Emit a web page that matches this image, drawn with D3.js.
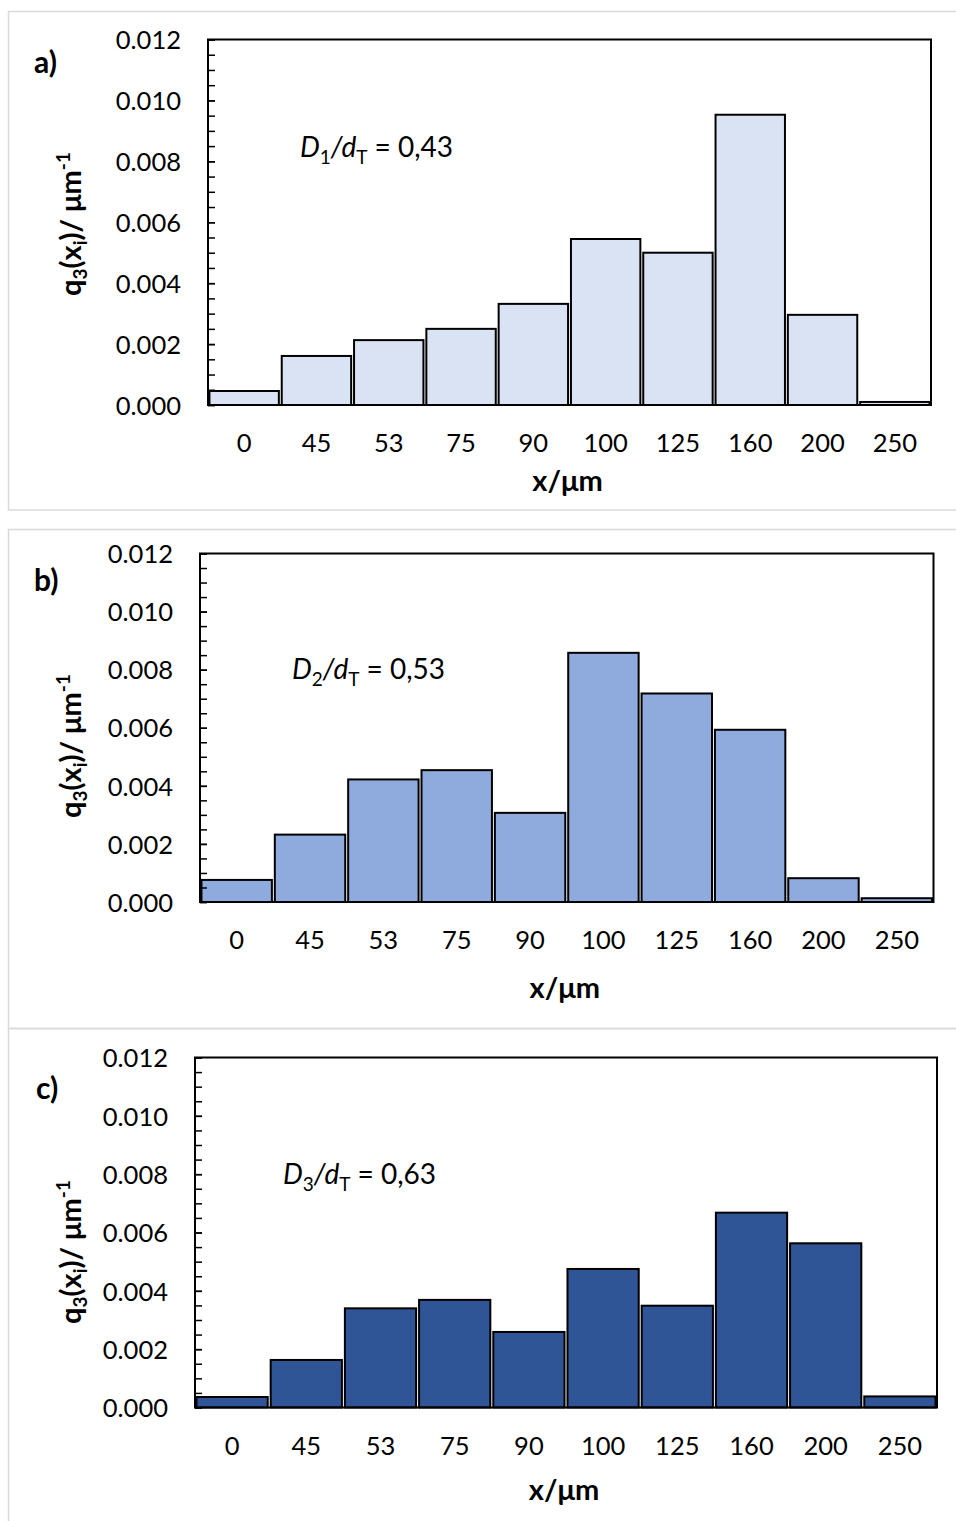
<!DOCTYPE html>
<html><head><meta charset="utf-8">
<script src="https://cdn.jsdelivr.net/npm/d3@7/dist/d3.min.js"></script>
<style>
html,body{margin:0;padding:0;background:#fff;}
svg{display:block;}
text{font-family:Lato,"Open Sans",sans-serif;fill:#000;}
</style></head>
<body>
<svg id="chart" width="956" height="1521"></svg>
<script>
// ---- data ----
const categories = ["0","45","53","75","90","100","125","160","200","250"];
const valuesA = [0.00046,0.00161,0.00213,0.0025,0.00332,0.00545,0.0050,0.00953,0.00296,0.0001];
const valuesB = [0.00076,0.00232,0.00422,0.00454,0.00307,0.00858,0.00718,0.00593,0.00082,0.00013];
const valuesC = [0.00036,0.00163,0.0034,0.00369,0.00259,0.00475,0.00349,0.00668,0.00563,0.00038];
const yTickValues = [0,0.002,0.004,0.006,0.008,0.010,0.012];
const panelLetters = ["a)","b)","c)"];
const ratioIndex = ["1","2","3"];
const ratioValues = ["0,43","0,53","0,63"];
const fills = ["#dae3f3","#8faadc","#2f5597"];
const xTitle = "x/μm";

// ---- layout per panel ----
const panels = [
  {vals:valuesA, frame:[8.5,11.5,960,510], plot:[208,39.5,931,405], ytitleY:224, letter:[34,73], ann:[300,157], xlabY:452, xtitleY:491},
  {vals:valuesB, frame:[8.5,529.5,960,1028.5], plot:[200,553.5,933.5,902], ytitleY:746, letter:[34,591], ann:[292,679], xlabY:949, xtitleY:998},
  {vals:valuesC, frame:[8.5,1028.5,960,1535], plot:[195,1057.5,937,1407.5], ytitleY:1252, letter:[36,1099], ann:[283,1184], xlabY:1455, xtitleY:1500}
];

const svg = d3.select("#chart");
const FS = 25.5;

panels.forEach((p, i) => {
  const [fx0, fy0, fx1, fy1] = p.frame;
  svg.append("rect").attr("x", fx0).attr("y", fy0).attr("width", fx1 - fx0).attr("height", fy1 - fy0)
    .attr("fill", "none").attr("stroke", "#d9d9d9").attr("stroke-width", 1.5);

  const [x0, y0, x1, y1] = p.plot;
  const x = d3.scaleBand().domain(categories).range([x0, x1]).paddingInner(0.04).paddingOuter(0.02);
  const y = d3.scaleLinear().domain([0, 0.012]).range([y1, y0]);

  const g = svg.append("g");

  // bars
  g.selectAll("rect.bar").data(categories).join("rect")
    .attr("class", "bar")
    .attr("x", d => x(d))
    .attr("width", x.bandwidth())
    .attr("y", (d, k) => y(p.vals[k]))
    .attr("height", (d, k) => y(0) - y(p.vals[k]))
    .attr("fill", fills[i]).attr("stroke", "#000").attr("stroke-width", 2);

  // minor ticks
  const minor = d3.range(0, 0.01201, 0.0005);
  const minorAxis = d3.axisLeft(y).tickValues(minor).tickSize(-7).tickFormat("");
  const gm = g.append("g").attr("transform", `translate(${x0},0)`).call(minorAxis);
  gm.select(".domain").remove();
  gm.selectAll("line").attr("stroke", "#000").attr("stroke-width", 1.5);

  // major ticks + labels
  const majorAxis = d3.axisLeft(y).tickValues(yTickValues).tickSize(-7).tickPadding(27).tickFormat(d3.format(".3f"));
  const ga = g.append("g").attr("transform", `translate(${x0},0)`).call(majorAxis);
  ga.select(".domain").remove();
  ga.selectAll("line").attr("stroke", "#000").attr("stroke-width", 1.5);
  ga.selectAll("text").attr("font-size", FS).attr("font-family", "Lato").attr("fill", "#000").attr("dy", "0.36em");

  // plot frame
  g.append("rect").attr("x", x0).attr("y", y0).attr("width", x1 - x0).attr("height", y1 - y0)
    .attr("fill", "none").attr("stroke", "#000").attr("stroke-width", 2);

  // x labels
  const xAxis = d3.axisBottom(x).tickSize(0).tickPadding(0);
  const gx = g.append("g").attr("transform", `translate(0,${y1})`).call(xAxis);
  gx.select(".domain").remove();
  gx.selectAll("text").attr("font-size", FS).attr("font-family", "Lato").attr("fill", "#000")
    .attr("y", p.xlabY - y1).attr("dy", null);

  // x title
  svg.append("text").attr("x", (x0 + x1) / 2 - 2).attr("y", p.xtitleY)
    .attr("text-anchor", "middle").attr("font-size", 29).attr("font-weight", "bold").text(xTitle);

  // y title
  const yt = svg.append("text").attr("transform", `translate(81,${p.ytitleY}) rotate(-90)`)
    .attr("text-anchor", "middle").attr("font-size", 29).attr("font-weight", "bold");
  yt.append("tspan").text("q");
  yt.append("tspan").attr("font-size", 19).attr("dy", 6).text("3");
  yt.append("tspan").attr("dy", -6).text("(x");
  yt.append("tspan").attr("font-size", 19).attr("dy", 6).text("i");
  yt.append("tspan").attr("dy", -6).text(")/ μm");
  yt.append("tspan").attr("font-size", 19).attr("dy", -11).text("-1");

  // panel letter
  svg.append("text").attr("x", p.letter[0]).attr("y", p.letter[1])
    .attr("font-size", 30).attr("font-weight", "bold").text(panelLetters[i]);

  // annotation
  const an = svg.append("text").attr("x", p.ann[0]).attr("y", p.ann[1]).attr("font-size", 28);
  an.append("tspan").attr("font-style", "italic").text("D");
  an.append("tspan").attr("font-size", 19).attr("dy", 7).text(ratioIndex[i]);
  an.append("tspan").attr("font-style", "italic").attr("dy", -7).text("/d");
  an.append("tspan").attr("font-size", 19).attr("dy", 7).text("T");
  an.append("tspan").attr("dy", -7).text(" = " + ratioValues[i]);
});
</script>
</body></html>
